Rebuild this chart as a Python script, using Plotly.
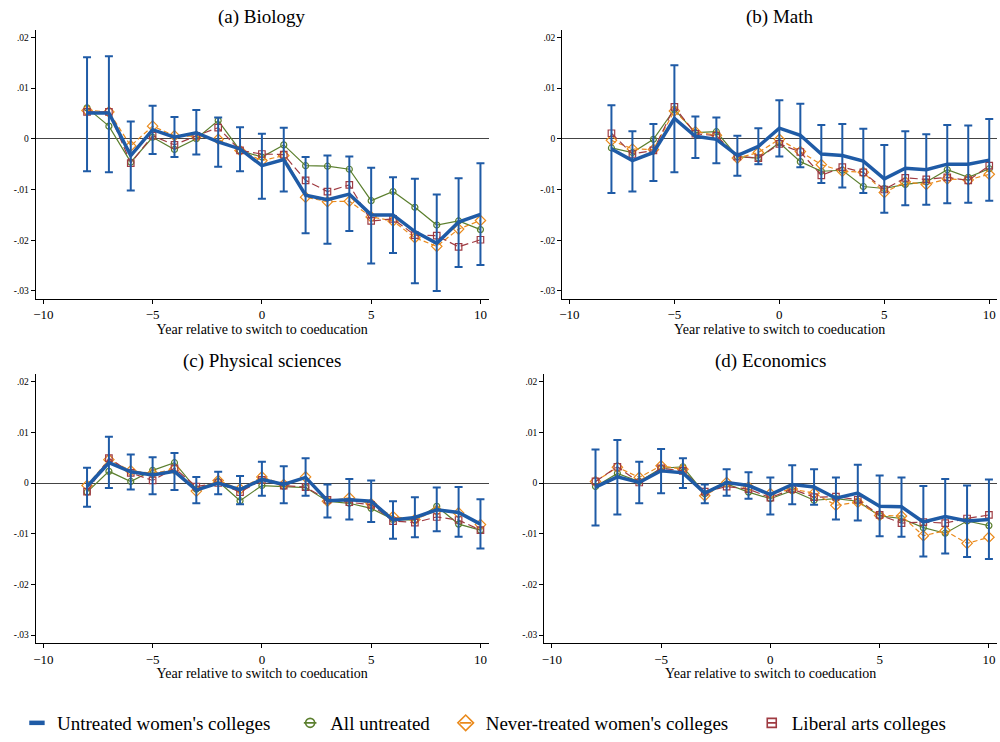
import plotly.graph_objects as go

# Event time (years relative to the switch to coeducation)
years = list(range(-8, 11))

# (a) Biology
bio_uwc = [0.0051, 0.0051, -0.0033, 0.0018, 0.0003, 0.0012, -0.0006, -0.0020, -0.0053, -0.0041,
           -0.0111, -0.0120, -0.0109, -0.0150, -0.0150, -0.0183, -0.0206, -0.0164, -0.0149]
bio_lo = [-0.0064, -0.0066, -0.0102, -0.0030, -0.0036, -0.0031, -0.0055, -0.0064, -0.0118, -0.0104,
          -0.0186, -0.0207, -0.0182, -0.0246, -0.0225, -0.0285, -0.0300, -0.0253, -0.0249]
bio_hi = [0.0161, 0.0163, 0.0034, 0.0065, 0.0043, 0.0057, 0.0042, 0.0023, 0.0010, 0.0022,
          -0.0036, -0.0033, -0.0035, -0.0057, -0.0076, -0.0079, -0.0110, -0.0078, -0.0048]
bio_all = [0.0061, 0.0025, -0.0046, 0.0003, -0.0021, 0.0000, 0.0036, -0.0023, -0.0036, -0.0012,
           -0.0053, -0.0054, -0.0060, -0.0122, -0.0104, -0.0135, -0.0170, -0.0162, -0.0179]
bio_never = [0.0056, 0.0053, -0.0014, 0.0025, 0.0006, 0.0005, -0.0001, -0.0023, -0.0043, -0.0033,
             -0.0115, -0.0124, -0.0123, -0.0154, -0.0162, -0.0195, -0.0212, -0.0178, -0.0161]
bio_lac = [0.0053, 0.0053, -0.0048, 0.0006, -0.0012, 0.0006, 0.0022, -0.0023, -0.0030, -0.0031,
           -0.0082, -0.0104, -0.0091, -0.0162, -0.0158, -0.0190, -0.0191, -0.0213, -0.0199]

# (b) Math
math_uwc = [-0.0020, -0.0043, -0.0027, 0.0040, 0.0005, -0.0001, -0.0033, -0.0015, 0.0021, 0.0007,
            -0.0030, -0.0033, -0.0044, -0.0079, -0.0058, -0.0061, -0.0050, -0.0050, -0.0042]
math_lo = [-0.0107, -0.0104, -0.0083, -0.0066, -0.0038, -0.0048, -0.0073, -0.0050, -0.0035, -0.0056,
           -0.0087, -0.0096, -0.0107, -0.0146, -0.0131, -0.0130, -0.0127, -0.0126, -0.0122]
math_hi = [0.0066, 0.0015, 0.0029, 0.0145, 0.0044, 0.0042, 0.0006, 0.0021, 0.0076, 0.0069,
           0.0027, 0.0029, 0.0020, -0.0012, 0.0015, 0.0009, 0.0027, 0.0026, 0.0039]
math_all = [-0.0018, -0.0027, -0.0001, 0.0058, 0.0012, 0.0014, -0.0035, -0.0038, -0.0008, -0.0045,
            -0.0064, -0.0062, -0.0094, -0.0098, -0.0090, -0.0085, -0.0061, -0.0076, -0.0059]
math_never = [-0.0003, -0.0020, -0.0021, 0.0055, 0.0014, 0.0007, -0.0038, -0.0027, -0.0001, -0.0025,
              -0.0051, -0.0064, -0.0066, -0.0106, -0.0085, -0.0090, -0.0079, -0.0081, -0.0070]
math_lac = [0.0011, -0.0030, -0.0023, 0.0063, 0.0010, 0.0006, -0.0035, -0.0038, -0.0010, -0.0026,
            -0.0072, -0.0056, -0.0066, -0.0100, -0.0077, -0.0080, -0.0076, -0.0082, -0.0053]

# (c) Physical sciences
phys_uwc = [-0.0007, 0.0040, 0.0022, 0.0016, 0.0023, -0.0014, 0.0000, -0.0013, 0.0007, -0.0003,
            0.0011, -0.0035, -0.0033, -0.0036, -0.0073, -0.0068, -0.0053, -0.0058, -0.0081]
phys_lo = [-0.0047, -0.0010, -0.0013, -0.0022, -0.0014, -0.0040, -0.0022, -0.0042, -0.0025, -0.0040,
           -0.0025, -0.0068, -0.0072, -0.0077, -0.0110, -0.0107, -0.0095, -0.0106, -0.0129]
phys_hi = [0.0030, 0.0091, 0.0056, 0.0051, 0.0059, 0.0012, 0.0022, 0.0014, 0.0042, 0.0033,
           0.0049, -0.0003, 0.0008, 0.0005, -0.0036, -0.0028, -0.0009, -0.0008, -0.0032]
phys_all = [-0.0018, 0.0023, 0.0003, 0.0025, 0.0040, -0.0012, 0.0003, -0.0035, -0.0005, -0.0007,
            -0.0009, -0.0036, -0.0040, -0.0050, -0.0072, -0.0073, -0.0046, -0.0081, -0.0093]
phys_never = [-0.0005, 0.0046, 0.0024, 0.0019, 0.0027, -0.0016, 0.0005, -0.0012, 0.0012, -0.0003,
              0.0012, -0.0036, -0.0029, -0.0041, -0.0066, -0.0072, -0.0054, -0.0059, -0.0082]
phys_lac = [-0.0017, 0.0049, 0.0020, 0.0005, 0.0029, -0.0007, 0.0000, -0.0018, 0.0006, -0.0005,
            -0.0008, -0.0033, -0.0038, -0.0043, -0.0075, -0.0078, -0.0067, -0.0073, -0.0093]

# (d) Economics
econ_uwc = [-0.0008, 0.0012, 0.0001, 0.0024, 0.0020, -0.0020, 0.0001, -0.0005, -0.0023, -0.0003,
            -0.0008, -0.0030, -0.0020, -0.0046, -0.0047, -0.0077, -0.0066, -0.0075, -0.0072]
econ_lo = [-0.0084, -0.0062, -0.0040, -0.0020, -0.0010, -0.0040, -0.0025, -0.0031, -0.0062, -0.0042,
           -0.0043, -0.0072, -0.0074, -0.0105, -0.0106, -0.0145, -0.0139, -0.0146, -0.0150]
econ_hi = [0.0066, 0.0085, 0.0042, 0.0067, 0.0049, -0.0003, 0.0027, 0.0021, 0.0011, 0.0035,
           0.0027, 0.0011, 0.0036, 0.0015, 0.0011, -0.0006, 0.0008, -0.0005, 0.0007]
econ_all = [-0.0007, 0.0019, 0.0003, 0.0029, 0.0032, -0.0021, -0.0002, -0.0018, -0.0031, -0.0015,
            -0.0034, -0.0031, -0.0036, -0.0065, -0.0070, -0.0088, -0.0099, -0.0075, -0.0084]
econ_never = [0.0003, 0.0031, 0.0011, 0.0034, 0.0027, -0.0025, 0.0001, -0.0008, -0.0021, -0.0012,
              -0.0020, -0.0044, -0.0038, -0.0064, -0.0065, -0.0104, -0.0094, -0.0119, -0.0107]
econ_lac = [0.0003, 0.0032, 0.0001, 0.0029, 0.0024, -0.0017, -0.0007, -0.0012, -0.0029, -0.0012,
            -0.0028, -0.0027, -0.0033, -0.0063, -0.0079, -0.0077, -0.0079, -0.0070, -0.0063]

panel_titles = ["(a) Biology", "(b) Math", "(c) Physical sciences", "(d) Economics"]
series_names = ["Untreated women's colleges", "All untreated",
                "Never-treated women's colleges", "Liberal arts colleges"]
x_ticks = [-10, -5, 0, 5, 10]
y_ticks = [0.02, 0.01, 0, -0.01, -0.02, -0.03]
y_tick_labels = [".02", ".01", "0", "-.01", "-.02", "-.03"]
x_title = "Year relative to switch to coeducation"

panels = [
    (bio_uwc, bio_lo, bio_hi, bio_all, bio_never, bio_lac),
    (math_uwc, math_lo, math_hi, math_all, math_never, math_lac),
    (phys_uwc, phys_lo, phys_hi, phys_all, phys_never, phys_lac),
    (econ_uwc, econ_lo, econ_hi, econ_all, econ_never, econ_lac),
]

W, H = 1000, 742
FONT = "Liberation Serif"
BLUE = "#1f5ba6"
GREEN = "#5b7f2e"
ORANGE = "#ea8a1c"
RED = "#9f3b42"

# plot-area boxes in pixels: (left, right, top, bottom)
boxes = [(33, 487, 30, 301), (561, 997, 30, 301),
         (33, 487, 377, 648), (543, 997, 377, 648)]

fig = go.Figure()
layout = dict(
    width=W, height=H,
    margin=dict(l=0, r=0, t=0, b=0),
    paper_bgcolor="white", plot_bgcolor="white",
    font=dict(family=FONT, color="black"),
    annotations=[],
    showlegend=True,
)

for i, (uwc, lo, hi, allu, never, lac) in enumerate(panels):
    sfx = "" if i == 0 else str(i + 1)
    xa, ya = "x" + sfx, "y" + sfx
    l, r, t, b = boxes[i]

    fig.add_trace(go.Scatter(
        x=years, y=allu, xaxis=xa, yaxis=ya, mode="lines+markers",
        name=series_names[1], showlegend=False,
        line=dict(color=GREEN, width=1.2),
        marker=dict(symbol="circle-open", size=6, color=GREEN, line=dict(width=1.2)),
    ))
    fig.add_trace(go.Scatter(
        x=years, y=never, xaxis=xa, yaxis=ya, mode="lines+markers",
        name=series_names[2], showlegend=False,
        line=dict(color=ORANGE, width=1.2, dash="5px,3px"),
        marker=dict(symbol="diamond-open", size=8, color=ORANGE, line=dict(width=1.2)),
    ))
    fig.add_trace(go.Scatter(
        x=years, y=lac, xaxis=xa, yaxis=ya, mode="lines+markers",
        name=series_names[3], showlegend=False,
        line=dict(color=RED, width=1.2, dash="8px,4px"),
        marker=dict(symbol="square-open", size=6.5, color=RED, line=dict(width=1.2)),
    ))
    fig.add_trace(go.Scatter(
        x=years, y=uwc, xaxis=xa, yaxis=ya, mode="lines",
        name=series_names[0], showlegend=False,
        line=dict(color=BLUE, width=3.5),
        error_y=dict(type="data", symmetric=False,
                     array=[h - e for h, e in zip(hi, uwc)],
                     arrayminus=[e - lo_ for e, lo_ in zip(uwc, lo)],
                     color=BLUE, thickness=2, width=4),
    ))

    axis_common = dict(showline=True, linecolor="black", linewidth=1.3,
                       ticks="outside", ticklen=4, tickwidth=1, tickcolor="black",
                       showgrid=False)
    layout["xaxis" + sfx] = dict(
        axis_common, domain=[l / W, r / W], range=[-10.34, 10.37],
        tickvals=x_ticks, tickfont=dict(size=13, family=FONT), zeroline=False,
        anchor=ya, title=dict(text=x_title, font=dict(size=14, family=FONT), standoff=2),
    )
    layout["yaxis" + sfx] = dict(
        axis_common, domain=[1 - b / H, 1 - t / H], range=[-0.0315, 0.0215],
        tickvals=y_ticks, ticktext=y_tick_labels, tickfont=dict(size=9.5, family=FONT),
        zeroline=True, zerolinecolor="#444", zerolinewidth=1.3, anchor=xa,
    )
    layout["annotations"].append(dict(
        text=panel_titles[i], x=(l + r) / 2 / W, y=1 - (t - 13) / H,
        xref="paper", yref="paper", xanchor="center", yanchor="middle",
        showarrow=False, font=dict(size=19, family=FONT),
    ))

# Legend keys: a compact marker glyph with a short stroke through it
legend_x = [0.014, 0.288, 0.444, 0.751]
legend_keys = [
    (series_names[0], BLUE, None, 0, 11, 4.5),
    (series_names[1], GREEN, "circle-open", 9, 9, 1.6),
    (series_names[2], ORANGE, "diamond-open", 12, 8, 1.6),
    (series_names[3], RED, "square-open", 9, 6.5, 1.6),
]
n_leg = 0
for k, (name, color, sym, sym_size, stroke_len, stroke_w) in enumerate(legend_keys):
    items = [(name, "line-ew", stroke_len, stroke_w)]
    if sym is not None:
        items = [(name, sym, sym_size, 1.6), ("\u00a0", "line-ew", stroke_len, stroke_w)]
    for text, symbol, size, lw in items:
        n_leg += 1
        key = "legend" if n_leg == 1 else "legend" + str(n_leg)
        fig.add_trace(go.Scatter(
            x=[None], y=[None], mode="markers", name=text, legend=key,
            showlegend=True, hoverinfo="skip",
            marker=dict(symbol=symbol, size=size, color=color,
                        line=dict(color=color, width=lw)),
        ))
        layout[key] = dict(x=legend_x[k], y=1 - 729 / H, xanchor="left", yanchor="middle",
                           orientation="h", bgcolor="rgba(0,0,0,0)", itemsizing="trace",
                           font=dict(size=19, family=FONT))

fig.update_layout(**layout)
fig.write_html("out.html")
